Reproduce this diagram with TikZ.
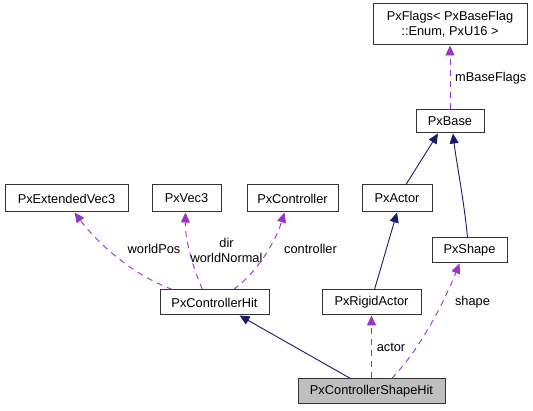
\documentclass[tikz,border=0pt]{standalone}
\usepackage{fontspec}
\setmainfont{Liberation Sans}
\usetikzlibrary{arrows.meta}
\definecolor{inh}{HTML}{191970}
\definecolor{use}{HTML}{9A32CD}
\begin{document}
\begin{tikzpicture}[x=1pt,y=-1pt,
  cls/.style={draw=black!80,line width=1pt,fill=white,inner sep=0pt,minimum height=25pt,font=\fontsize{12.8}{15}\selectfont,align=center},
  inhedge/.style={draw=inh,line width=0.9pt,-{Triangle[length=10pt,width=9pt]}},
  useedge/.style={draw=use,line width=0.9pt,dash pattern=on 6pt off 5pt,-{Triangle[length=10pt,width=9pt]}},
  lbl/.style={inner sep=0pt,font=\fontsize{12.8}{15}\selectfont,align=center}]
\useasboundingbox (0,0) rectangle (533,411);
\node[cls,minimum width=154pt,minimum height=41pt] (flags) at (450,24.5) {PxFlags< PxBaseFlag\\::Enum, PxU16 >};
\node[cls,minimum width=68pt,minimum height=23pt] (base) at (450,121.5) {PxBase};
\node[cls,minimum width=123pt,minimum height=27pt] (ext) at (66.5,198.5) {PxExtendedVec3};
\node[cls,minimum width=69pt,minimum height=27pt] (vec3) at (186.5,198.5) {PxVec3};
\node[cls,minimum width=91pt,minimum height=27pt] (ctrl) at (292.5,198.5) {PxController};
\node[cls,minimum width=70pt,minimum height=27pt] (actor) at (397,198.5) {PxActor};
\node[cls,minimum width=75pt] (shape) at (469.5,250.5) {PxShape};
\node[cls,minimum width=109pt] (hit) at (214.5,302.5) {PxControllerHit};
\node[cls,minimum width=99pt] (rigid) at (371.5,302.5) {PxRigidActor};
\node[cls,minimum width=147pt,fill=black!25] (sh) at (371.5,391.5) {PxControllerShapeHit};

\draw[useedge] (base.north) -- (flags.south);
\node[lbl,anchor=west] (lflags) at (455,78) {mBaseFlags};

\draw[inhedge] ([xshift=9pt]actor.north) -- ([xshift=-12pt]base.south);
\draw[inhedge] ([xshift=-2pt]shape.north) .. controls (464,200) and (456,160) .. ([xshift=3pt]base.south);
\draw[inhedge] ([xshift=3pt]rigid.north) -- (actor.south);
\draw[inhedge] ([xshift=-21pt]sh.north) -- ([xshift=25pt]hit.south);

\draw[useedge,line width=1.6pt] (sh.north -| rigid.south) -- (rigid.south);
\node[lbl] (lactor) at (391,347) {actor};
\draw[useedge] ([xshift=20pt]sh.north) .. controls (420,350) and (445,300) .. ([xshift=-10pt]shape.south);
\node[lbl] (lshape) at (472.5,302) {shape};

\draw[useedge] ([xshift=-42pt]hit.north) .. controls (130,274) and (95,240) .. ([xshift=8pt]ext.south);
\node[lbl] (lwp) at (154,249) {worldPos};
\draw[useedge] ([xshift=-12pt]hit.north) .. controls (193,268) and (185,240) .. ([xshift=-1pt]vec3.south);
\node[lbl] (ldir) at (226.5,250) {dir\\worldNormal};
\draw[useedge] ([xshift=19pt]hit.north) .. controls (258,272) and (276,240) .. ([xshift=-8pt]ctrl.south);
\node[lbl] (lctrl) at (310.5,249) {controller};
\end{tikzpicture}
\end{document}
